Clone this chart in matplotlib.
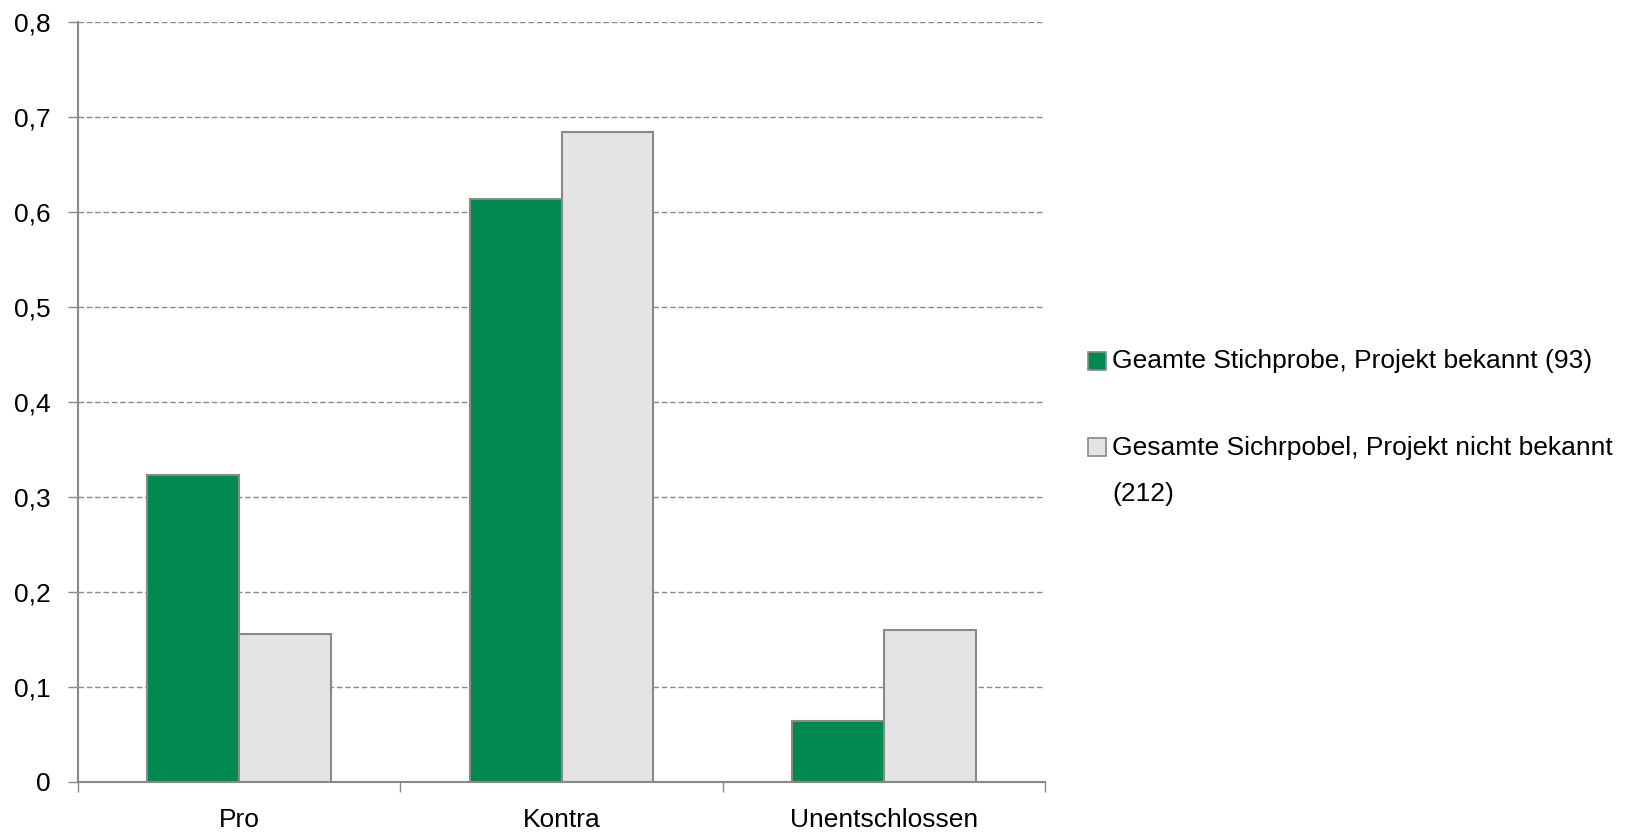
import matplotlib.pyplot as plt
import numpy as np
from matplotlib.patches import Rectangle

plt.rcParams['font.family'] = ['Liberation Sans', 'DejaVu Sans']

# --- データ ---
categories = ['Pro', 'Kontra', 'Unentschlossen']
bekannt = [0.323, 0.613, 0.0645]          # Projekt bekannt (93)
nicht_bekannt = [0.156, 0.684, 0.160]     # Projekt nicht bekannt (212)
series_labels = ['Geamte Stichprobe, Projekt bekannt (93)',
                 'Gesamte Sichrpobel, Projekt nicht bekannt\n(212)']
y_ticks = [0, 0.1, 0.2, 0.3, 0.4, 0.5, 0.6, 0.7, 0.8]
y_ticklabels = ['0', '0,1', '0,2', '0,3', '0,4', '0,5', '0,6', '0,7', '0,8']

green = '#00894F'
light = '#E4E4E4'
edge = '#898989'
fs = 19

fig = plt.figure(figsize=(16.3, 8.35), dpi=100)
ax = fig.add_axes([0.0479, 0.0635, 0.5933, 0.9105])

x = np.arange(len(categories))
w = 0.285
ax.bar(x - w / 2, bekannt, w, color=green, edgecolor=edge, linewidth=1.5, zorder=3)
ax.bar(x + w / 2, nicht_bekannt, w, color=light, edgecolor=edge, linewidth=1.5, zorder=3)

ax.set_xlim(-0.5, len(categories) - 0.5)
ax.set_ylim(0, 0.8)
ax.set_yticks(y_ticks)
ax.set_yticklabels(y_ticklabels, fontsize=fs)
ax.set_xticks(x)
ax.set_xticklabels(categories, fontsize=fs)
ax.set_xticks(np.arange(len(categories) + 1) - 0.5, minor=True)
ax.tick_params(axis='x', which='major', length=0, pad=19)
ax.tick_params(axis='x', which='minor', length=7.5, color=edge, width=1)
ax.tick_params(axis='y', length=7, color=edge, width=1, pad=13)

ax.grid(axis='y', linestyle=(0, (4, 2)), color='#8a8a8a', linewidth=1, zorder=0)
for s in ['top', 'right']:
    ax.spines[s].set_visible(False)
for s in ['left', 'bottom']:
    ax.spines[s].set_color(edge)
    ax.spines[s].set_linewidth(1.5)
ax.spines['bottom'].set_zorder(4)

# 凡例（手動で描画）
W, H = 1630, 835
box_y = [361, 447]      # 四角の中心 (px)
text_y = [361, 436]     # 1行目: 中央, 2行目: 上端
for lab, col, by, ty in zip(series_labels, [green, light], box_y, text_y):
    fig.patches.append(Rectangle((1088 / W, 1 - (by + 9) / H), 18 / W, 18 / H,
                                 transform=fig.transFigure, facecolor=col,
                                 edgecolor=edge, linewidth=1.2))
    fig.text(1112 / W, 1 - ty / H, lab, fontsize=fs,
             va='top' if '\n' in lab else 'center', ha='left', linespacing=2.15)

fig.savefig('out.png', dpi=100)
